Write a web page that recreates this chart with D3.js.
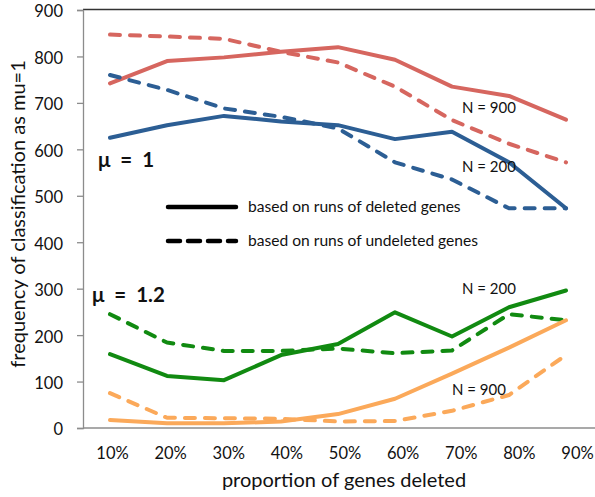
<!DOCTYPE html>
<html>
<head>
<meta charset="utf-8">
<script src="https://cdn.jsdelivr.net/npm/d3@7"></script>
<style>
  html, body { margin: 0; padding: 0; background: #fff; }
  svg { display: block; font-family: Lato, "Open Sans", sans-serif; }
</style>
</head>
<body>
<svg id="chart" width="595" height="497"></svg>
<script>
// Proportion of genes deleted (x categories)
const categories = ["10%", "20%", "30%", "40%", "50%", "60%", "70%", "80%", "90%"];
const yTicks = [0, 100, 200, 300, 400, 500, 600, 700, 800, 900];

// mu = 1
const mu1N900Deleted   = [742, 790, 798, 810, 820, 793, 735, 715, 664];
const mu1N900Undeleted = [847, 843, 838, 810, 787, 735, 663, 612, 572];
const mu1N200Deleted   = [625, 652, 672, 660, 652, 622, 638, 572, 473];
const mu1N200Undeleted = [760, 728, 688, 670, 645, 572, 535, 473, 473];

// mu = 1.2
const mu12N200Deleted   = [159, 112, 103, 157, 181, 249, 197, 260, 296];
const mu12N200Undeleted = [245, 184, 166, 166, 171, 161, 167, 245, 232];
const mu12N900Deleted   = [17, 10, 10, 14, 30, 63, 117, 173, 232];
const mu12N900Undeleted = [75, 22, 21, 20, 14, 15, 37, 71, 157];

const series = [
  { values: mu1N900Deleted,    color: "#D6665F", dashed: false },
  { values: mu1N900Undeleted,  color: "#D6665F", dashed: true },
  { values: mu1N200Deleted,    color: "#2C5E94", dashed: false },
  { values: mu1N200Undeleted,  color: "#2C5E94", dashed: true },
  { values: mu12N200Deleted,   color: "#118A11", dashed: false },
  { values: mu12N200Undeleted, color: "#118A11", dashed: true },
  { values: mu12N900Deleted,   color: "#FBA95A", dashed: false },
  { values: mu12N900Undeleted, color: "#FBA95A", dashed: true }
];

const svg = d3.select("#chart");
const plot = { left: 83, right: 595, top: 10, bottom: 428 };

const x = d3.scalePoint().domain(categories).range([110, 566]);
// category labels are spread over the full axis width
const xLabel = d3.scalePoint().domain(categories).range([112, 577]);
const y = d3.scaleLinear().domain([0, 900]).range([plot.bottom, plot.top]);

// frame top line
svg.append("line")
  .attr("x1", plot.left).attr("x2", plot.right)
  .attr("y1", plot.top - 0.5).attr("y2", plot.top - 0.5)
  .attr("stroke", "#333").attr("stroke-width", 1.5);

// y axis
const yAxis = svg.append("g")
  .attr("transform", `translate(${plot.left},0)`)
  .call(d3.axisLeft(y).tickValues(yTicks).tickSize(6).tickPadding(14));
yAxis.select(".domain").attr("stroke", "#8c8c8c").attr("stroke-width", 1.3);
yAxis.selectAll(".tick line").attr("stroke", "#8c8c8c").attr("stroke-width", 1.3);
yAxis.selectAll(".tick text")
  .attr("font-size", 16.5).attr("fill", "#111")
  .attr("dy", "0.42em")
  .attr("font-family", "Lato, sans-serif");

// x axis line
svg.append("line")
  .attr("x1", plot.left).attr("x2", plot.right)
  .attr("y1", plot.bottom).attr("y2", plot.bottom)
  .attr("stroke", "#8c8c8c").attr("stroke-width", 1.3);

// x category labels
const xAxis = svg.append("g")
  .attr("transform", `translate(0,${plot.bottom})`)
  .call(d3.axisBottom(xLabel).tickSize(0).tickPadding(19));
xAxis.select(".domain").remove();
xAxis.selectAll(".tick text")
  .attr("font-size", 16.5).attr("fill", "#111")
  .attr("font-family", "Lato, sans-serif");

// axis titles
svg.append("text")
  .attr("x", 344).attr("y", 487)
  .attr("text-anchor", "middle")
  .attr("font-size", 20).attr("fill", "#111")
  .text("proportion of genes deleted");

svg.append("text")
  .attr("transform", "translate(25,214) rotate(-90)")
  .attr("text-anchor", "middle")
  .attr("font-size", 20).attr("fill", "#111")
  .text("frequency of classification as mu=1");

// series lines
const line = d3.line()
  .x((d, i) => x(categories[i]))
  .y(d => y(d));

svg.append("g").selectAll("path")
  .data(series)
  .join("path")
  .attr("d", d => line(d.values))
  .attr("fill", "none")
  .attr("stroke", d => d.color)
  .attr("stroke-width", 4)
  .attr("stroke-linejoin", "round")
  .attr("stroke-linecap", "round")
  .attr("stroke-dasharray", d => d.dashed ? "10,10" : null);

// legend
const legend = [
  { label: "based on runs of deleted genes", dashed: false, y: 207 },
  { label: "based on runs of undeleted genes", dashed: true, y: 241 }
];
const lg = svg.append("g");
lg.selectAll("line")
  .data(legend)
  .join("line")
  .attr("x1", 168).attr("x2", 236)
  .attr("y1", d => d.y).attr("y2", d => d.y)
  .attr("stroke", "#000")
  .attr("stroke-width", 4.5)
  .attr("stroke-linecap", "round")
  .attr("stroke-dasharray", d => d.dashed ? "12,8" : null);
lg.selectAll("text")
  .data(legend)
  .join("text")
  .attr("x", 248).attr("y", d => d.y + 5)
  .attr("font-size", 15.6).attr("fill", "#111")
  .text(d => d.label);

// group labels
const groupLabels = [
  { text: "\u03bc  =  1", x: 98, y: 167 },
  { text: "\u03bc  =  1.2", x: 92, y: 302 }
];
svg.append("g").selectAll("text")
  .data(groupLabels)
  .join("text")
  .attr("x", d => d.x).attr("y", d => d.y)
  .attr("font-size", 20.5).attr("font-weight", "bold").attr("fill", "#111")
  .style("white-space", "pre")
  .text(d => d.text);

// N annotations
const nLabels = [
  { text: "N = 900", x: 462, y: 113 },
  { text: "N = 200", x: 462, y: 172 },
  { text: "N = 200", x: 462, y: 294 },
  { text: "N = 900", x: 452, y: 395 }
];
svg.append("g").selectAll("text")
  .data(nLabels)
  .join("text")
  .attr("x", d => d.x).attr("y", d => d.y)
  .attr("font-size", 15).attr("fill", "#111")
  .text(d => d.text);
</script>
</body>
</html>
